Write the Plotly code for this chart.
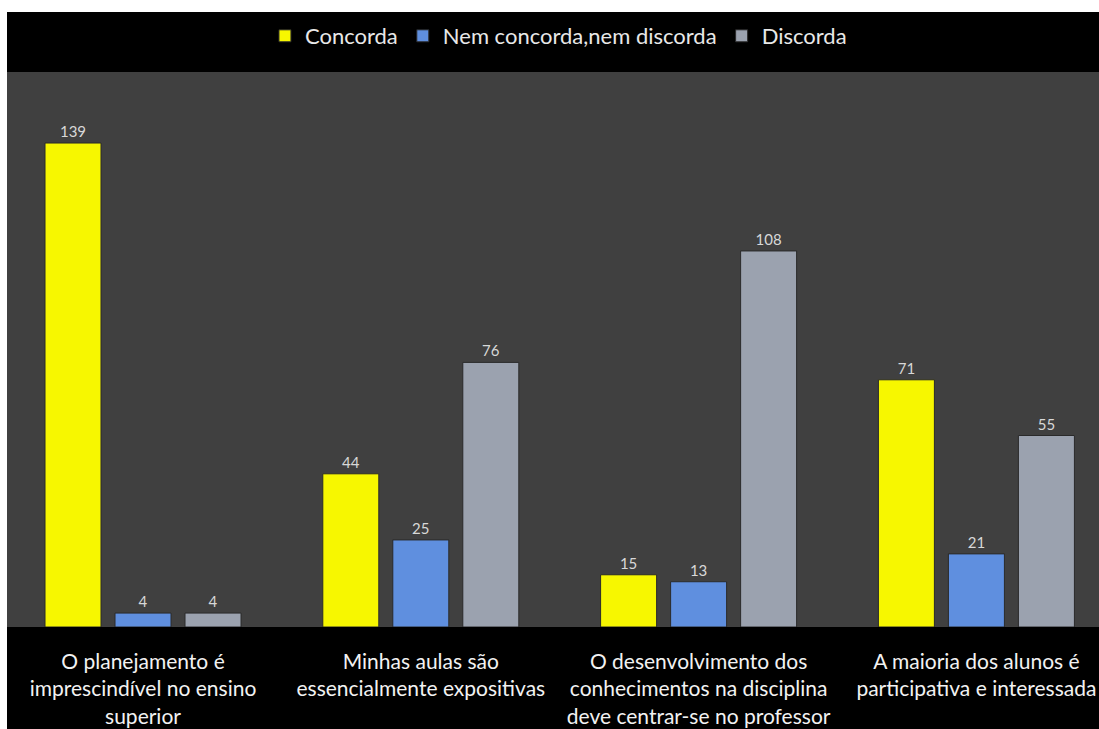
import plotly.graph_objects as go

categories = [
    "O planejamento é<br>imprescindível no ensino<br>superior",
    "Minhas aulas são<br>essencialmente expositivas",
    "O desenvolvimento dos<br>conhecimentos na disciplina<br>deve centrar-se no professor",
    "A maioria dos alunos é<br>participativa e interessada",
]
series_names = ["Concorda", "Nem concorda,nem discorda", "Discorda"]
concorda = [139, 44, 15, 71]
nem = [4, 25, 13, 21]
discorda = [4, 76, 108, 55]
colors = ["#F7F700", "#5F8FDF", "#9BA2AF"]

fig = go.Figure()
for name, vals, col in zip(series_names, [concorda, nem, discorda], colors):
    fig.add_trace(go.Bar(
        x=categories, y=vals, name=name,
        marker=dict(color=col, line=dict(color="#2a2a2a", width=1)),
        text=vals, textposition="outside", cliponaxis=False,
        textfont=dict(family="Lato", size=15, color="#d8d8d8"),
    ))

W, H = 1099, 729
L, R, T, B = 7, 0, 72, 102
pw, ph = W - L - R, H - T - B

fig.update_layout(
    width=W, height=H,
    margin=dict(l=L, r=R, t=T, b=B, pad=0),
    paper_bgcolor="#000000",
    plot_bgcolor="#404040",
    barmode="group", bargap=0.244, bargroupgap=0.2,
    font=dict(family="Lato", color="#f0f0f0"),
    legend=dict(
        orientation="h", x=0.505, xanchor="center", y=1 + 36 / ph, yanchor="middle",
        font=dict(family="Lato", size=22, color="#e8e8e8"),
        bgcolor="rgba(0,0,0,0)", itemwidth=30, traceorder="normal",
    ),
    xaxis=dict(
        range=[-0.4896, 3.4413], showgrid=False, zeroline=False, showline=False,
        ticks="", tickangle=0, tickfont=dict(family="Lato", size=21, color="#f2f2f2"),
        ticklabelstandoff=20,
    ),
    yaxis=dict(range=[0, 159.4], showgrid=False, zeroline=False, showline=False,
               showticklabels=False, ticks=""),
    shapes=[
        dict(type="rect", xref="paper", yref="paper", x0=-L / pw, x1=0,
             y0=-B / ph, y1=1 + T / ph, fillcolor="white", line=dict(width=0)),
        dict(type="rect", xref="paper", yref="paper", x0=-L / pw, x1=1,
             y0=1 + 60 / ph, y1=1 + T / ph, fillcolor="white", line=dict(width=0)),
    ],
)

fig.write_html("out.html")
